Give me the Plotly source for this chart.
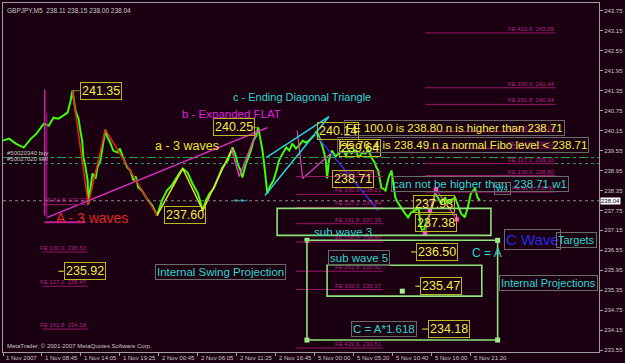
import plotly.graph_objects as go

# ---------------- data ----------------
symbol_info = "GBPJPY,M5  238.11 238.15 238.00 238.04"
copyright_text = "MetaTrader, © 2001-2007 MetaQuotes Software Corp."

time_label_bars = [0, 64, 128, 192, 256, 320, 384, 448, 512, 576, 640, 704, 768]
time_labels = ["1 Nov 2007", "1 Nov 08:45", "1 Nov 14:05", "1 Nov 19:25", "2 Nov 00:45",
               "2 Nov 06:05", "2 Nov 11:25", "2 Nov 16:45", "5 Nov 00:00", "5 Nov 05:20",
               "5 Nov 10:40", "5 Nov 16:00", "5 Nov 21:20"]
price_ticks = [233.55, 234.15, 234.75, 235.35, 235.95, 236.55, 237.15, 237.75, 238.35,
               238.95, 239.55, 240.15, 240.75, 241.35, 241.95, 242.55, 243.15, 243.75]

bars = [0, 10, 21, 34, 46, 55, 67, 75, 83, 91, 99, 106, 111, 114, 119, 124, 127, 130, 132, 135,
        139, 140, 143, 147, 152, 155, 160, 163, 168, 171, 176, 181, 188, 192, 197, 204, 209, 214,
        218, 222, 228, 236, 245, 253, 261, 269, 277, 285, 295, 303, 311, 320, 328, 333, 339, 346,
        351, 355, 360, 369, 377, 382, 385, 390, 393, 398, 403, 408, 411, 416, 419, 423, 426, 429,
        431, 434, 439, 444, 449, 453, 460, 465, 470, 475, 481, 486, 492, 497, 502, 507, 512, 515,
        519, 523, 527, 530, 532, 535, 540, 546, 551, 558, 563, 567, 572, 579, 584, 590, 595, 600,
        605, 610, 613, 616, 621, 628, 633, 638, 641, 644, 649, 654, 660, 665, 670, 677, 682, 686,
        690, 693, 698, 703, 709, 714, 719, 726, 730, 735, 742, 747, 752, 758, 763, 768, 775, 779, 783]
closes = [239.85, 239.91, 239.76, 239.64, 239.91, 240.06, 240.36, 240.30, 240.54, 240.51, 240.60,
          240.69, 241.05, 241.35, 240.75, 240.51, 240.15, 239.85, 239.34, 239.10, 238.65, 237.93,
          238.35, 238.86, 238.71, 239.04, 239.25, 239.64, 240.18, 239.97, 239.79, 239.55, 239.49,
          239.61, 239.34, 239.04, 238.95, 238.65, 238.77, 238.44, 238.35, 238.11, 237.90, 237.60,
          238.05, 238.35, 238.50, 238.74, 239.01, 238.89, 238.56, 238.26, 237.75, 238.05, 238.26,
          238.41, 238.65, 238.80, 239.04, 239.25, 239.64, 239.40, 239.16, 238.95, 238.74, 239.10,
          239.34, 239.61, 239.85, 240.00, 240.25, 239.91, 239.55, 239.10, 238.74, 238.26, 238.50,
          238.65, 238.95, 239.25, 239.49, 239.64, 239.55, 239.76, 239.61, 239.70, 239.85, 239.79,
          239.85, 239.94, 240.03, 240.14, 239.97, 239.76, 239.49, 239.25, 238.71, 239.25, 239.55,
          239.37, 239.46, 239.55, 239.40, 239.55, 239.46, 239.55, 239.34, 239.49, 239.46, 239.55,
          239.34, 239.19, 239.04, 238.95, 238.44, 238.35, 238.74, 238.95, 238.50, 238.14, 237.96,
          237.84, 237.66, 237.54, 237.69, 237.75, 237.84, 237.24, 237.09, 237.30, 237.51, 237.75,
          238.26, 238.14, 237.96, 238.14, 237.96, 238.05, 238.14, 237.90, 237.66, 237.54, 237.84,
          238.26, 238.41, 238.14, 238.04]

last_price = 238.04
buy_price, sell_price = 239.34, 239.16

red_wave_bars = [114, 140, 168, 253]
red_wave_prices = [241.35, 237.93, 240.18, 237.60]
yellow_wave_bars = [253, 295, 328, 377]
yellow_wave_prices = [237.60, 239.01, 237.75, 239.64]
pink_b_bars = [375, 388, 417]
pink_b_prices = [239.61, 238.77, 240.15]
pink_c_bars = [483, 492, 540]
pink_c_prices = [240.15, 238.71, 239.49]
pink_r_bars = [693, 701, 711, 745]
pink_r_prices = [237.06, 237.75, 238.38, 237.48]
wedge_low_bars, wedge_low_prices = [430, 535], [238.20, 240.57]
wedge_up_bars, wedge_up_prices = [432, 535], [239.34, 240.57]
blue_bars, blue_prices = [512, 616], [240.06, 237.75]
trend_bars, trend_prices = [73, 434], [237.54, 240.24]

fib_left = [("61.8", 237.93), ("100.0", 236.50), ("127.2", 235.47), ("161.8", 234.18)]
fib_mid = [("61.8", 238.77), ("100.0", 238.23), ("127.2", 237.84), ("161.8", 237.35),
           ("200.0", 236.80), ("261.8", 235.92), ("300.0", 235.37), ("423.6", 233.61)]
fib_right = [("61.8", 238.30), ("100.0", 238.80), ("127.2", 239.16), ("161.8", 239.62),
             ("200.0", 240.12), ("261.8", 240.94), ("300.0", 241.44), ("423.6", 243.09)]
fib_spans = [(65, 139), (481, 624), (693, 907)]

price_label_values = [241.35, 240.25, 240.14, 239.64, 238.71, 237.60, 237.93, 237.38,
                      236.50, 235.47, 234.18, 235.92]
price_label_bars = [126, 344, 515, 551, 540, 264, 673, 677, 678, 685, 698, 100]

rect_bars = [(450, 801), (499, 812), (532, 786)]
rect_prices = [(237.81, 237.00), (236.85, 233.85), (236.10, 235.17)]

# ---------------- styling ----------------
BG = "#1a0010"
FONT = "Liberation Sans, Arial, sans-serif"
GRAY = "#c8c8c8"
FIBC = "#9a1468"
FIBT = "#b8268a"
CYAN = "#2fd6d0"
YEL = "#f0f040"

fig = go.Figure()

shapes = []
annos = []


def seg(x0, y0, x1, y1, color, width=1, dash="solid"):
    shapes.append(dict(type="line", xref="x", yref="y", x0=x0, y0=y0, x1=x1, y1=y1,
                       line=dict(color=color, width=width, dash=dash), layer="above"))


# horizontal full width lines
seg(0, buy_price, 978.4, buy_price, "#22a844", 1, "dashdot")
seg(0, sell_price, 978.4, sell_price, "#2a9a70", 1, "dot")
seg(0, last_price, 978.4, last_price, "#8c8c8c", 1, "dot")

# fibo groups
for grp, (b0, b1) in zip([fib_left, fib_mid, fib_right], fib_spans):
    for name, lvl in grp:
        seg(b0, lvl, b1, lvl, FIBC, 1)
        annos.append(dict(x=b1, y=lvl, xref="x", yref="y", xanchor="right", yanchor="bottom",
                          text="FE %s  %.2f" % (name, lvl), showarrow=False,
                          font=dict(family=FONT, size=6, color=FIBT), borderpad=0))

# magenta verticals / horizontal at left
seg(68.5, 241.38, 68.5, 237.60, "#d020a8", 1.5)
seg(72, 240.69, 72, 237.51, "#b01890", 1)
seg(68.5, 237.39, 135, 237.39, "#c020a0", 2)

# trendlines / waves drawn as traces
def poly(xs, ys, color, width=1.5, dash="solid"):
    fig.add_trace(go.Scatter(x=xs, y=ys, mode="lines", line=dict(color=color, width=width, dash=dash),
                             hoverinfo="skip", showlegend=False))

# green price line
fig.add_trace(go.Scatter(x=bars, y=closes, mode="lines", line=dict(color="#3cff00", width=2),
                         hoverinfo="skip", showlegend=False))

poly(trend_bars, trend_prices, "#e030c8", 1.5)
poly(red_wave_bars, red_wave_prices, "#e82020", 1.5)
poly(yellow_wave_bars, yellow_wave_prices, "#e0e030", 1.5)
poly(pink_b_bars, pink_b_prices, "#e040c0", 1.5)
poly(pink_c_bars, pink_c_prices, "#e040c0", 1.2)
poly(wedge_low_bars, wedge_low_prices, "#20d8e0", 1.5)
poly(wedge_up_bars, wedge_up_prices, "#20d8e0", 1.5)
poly(blue_bars, blue_prices, "#3030e8", 1.5)
poly([380, 401], [238.05, 238.05], "#20c8d0", 2, "dot")
fig.add_trace(go.Scatter(x=pink_r_bars, y=pink_r_prices, mode="lines+markers",
                         line=dict(color="#e040c0", width=1.2),
                         marker=dict(symbol="square", size=5, color="#ff50d0",
                                     line=dict(color="#600040", width=1)),
                         hoverinfo="skip", showlegend=False))

# green rectangles
for (b0, b1), (p0, p1) in zip(rect_bars, rect_prices):
    shapes.append(dict(type="rect", xref="x", yref="y", x0=b0, x1=b1, y0=p0, y1=p1,
                       line=dict(color="#8ee27a", width=1.6), fillcolor="rgba(0,0,0,0)",
                       layer="above"))
(cb0, cb1), (cp0, cp1) = rect_bars[1], rect_prices[1]
fig.add_trace(go.Scatter(x=[cb0, cb0, cb1, cb1, 655.5], y=[cp0, cp1, cp0, cp1, 235.32],
                         mode="markers", marker=dict(symbol="square", size=5, color="#a8f090"),
                         hoverinfo="skip", showlegend=False))

# price label boxes
for v, b in zip(price_label_values, price_label_bars):
    annos.append(dict(x=b, y=v, xref="x", yref="y", xanchor="left", yanchor="middle",
                      text="%.2f" % v, showarrow=False, borderpad=1,
                      bordercolor="#b8b820", borderwidth=1,
                      font=dict(family=FONT, size=12.5, color=YEL)))
# connectors
seg(114, 241.35, 126, 241.35, "#8a8a20", 1)
seg(409, 240.25, 417, 240.25, "#8a8a20", 1)
seg(91, 235.92, 100, 235.92, YEL, 1)
seg(670, 236.50, 678, 236.50, YEL, 1)
seg(677, 235.47, 685, 235.47, YEL, 1)
seg(688, 234.18, 698, 234.18, YEL, 1)


def text(x, y, s, color, size, box=False, xanchor="left"):
    d = dict(x=x, y=y, xref="x", yref="y", xanchor=xanchor, yanchor="middle", text=s,
             showarrow=False, font=dict(family=FONT, size=size, color=color), borderpad=1)
    if box:
        d.update(bordercolor="#6a6a6a", borderwidth=1)
    annos.append(d)


text(290, 240.66, "b - Expanded FLAT", "#e020e0", 11.5)
text(375, 241.17, "c - Ending Diagonal Triangle", CYAN, 11)
text(246, 239.70, "a - 3 waves", "#e8e830", 12.5)
text(83, 237.51, "A - 3 waves", "#e02828", 14)
text(507, 237.09, "sub wave 3", CYAN, 11.5)
text(766, 236.46, "C = A", CYAN, 12)
text(559, 240.225, "FE 100.0 is 238.80 n is higher than 238.71", YEL, 11.5, box=True)
text(548, 239.73, "FE 76.4 is 238.49 n a normal Fibo level &lt; 238.71", YEL, 11.5, box=True)
text(637, 238.55, "can not be higher than  238.71 w1", CYAN, 11.5, box=True)
text(806, 238.40, "W4", CYAN, 8, box=True)
text(533, 236.31, "sub wave 5", CYAN, 11.5, box=True)
text(250, 235.905, "Internal Swing Projection", CYAN, 11.5, box=True)
text(571, 234.18, "C = A*1.618", CYAN, 11.5, box=True)
text(822, 236.86, "C Wave", "#2a2ae8", 15, box=True)
text(907, 236.85, "Targets", CYAN, 11, box=True)
text(815, 235.575, "Internal Projections", CYAN, 11, box=True)

# order labels
annos.append(dict(x=3, y=buy_price, xref="x", yref="y", xanchor="left", yanchor="bottom",
                  text="#50020340 buy", showarrow=False, font=dict(family=FONT, size=6, color=GRAY)))
annos.append(dict(x=3, y=sell_price, xref="x", yref="y", xanchor="left", yanchor="bottom",
                  text="#50027020 sell", showarrow=False, font=dict(family=FONT, size=6, color=GRAY)))

# header / footer
annos.append(dict(x=0.004, y=0.995, xref="paper", yref="paper", xanchor="left", yanchor="top",
                  text=symbol_info, showarrow=False, font=dict(family=FONT, size=6.5, color=GRAY)))
annos.append(dict(x=0.003, y=0.002, xref="paper", yref="paper", xanchor="left", yanchor="bottom",
                  text=copyright_text, showarrow=False, font=dict(family=FONT, size=6, color=GRAY)))

# time axis labels
for b, lab in zip(time_label_bars, time_labels):
    annos.append(dict(x=b, y=0, xref="x", yref="paper", xanchor="left", yanchor="top",
                      text=lab, showarrow=False, yshift=-1, xshift=1,
                      font=dict(family=FONT, size=6, color=GRAY)))

# current price tag
annos.append(dict(x=1, y=last_price, xref="paper", yref="y", xanchor="left", yanchor="middle",
                  text="%.2f" % last_price, showarrow=False, bgcolor="#ffffff", borderpad=0,
                  xshift=1, font=dict(family=FONT, size=6, color="#000000")))

fig.update_layout(
    width=625, height=363,
    margin=dict(l=2, r=23, t=2, b=11),
    paper_bgcolor=BG, plot_bgcolor=BG,
    shapes=shapes, annotations=annos, showlegend=False,
    xaxis=dict(range=[0, 978.4], showgrid=False, zeroline=False, tickvals=time_label_bars,
               showticklabels=False, ticks="outside", ticklen=3, tickcolor="#a0a0a0",
               showline=True, mirror=True, linecolor="#a0a0a0", linewidth=1, fixedrange=True),
    yaxis=dict(range=[233.49, 243.99], side="right", showgrid=False, zeroline=False,
               tickvals=price_ticks, ticktext=["%.2f" % t for t in price_ticks],
               ticks="outside", ticklen=3, tickcolor="#a0a0a0",
               tickfont=dict(family=FONT, size=6, color=GRAY),
               showline=True, mirror=True, linecolor="#a0a0a0", linewidth=1, fixedrange=True),
)

fig.write_html("out.html")
